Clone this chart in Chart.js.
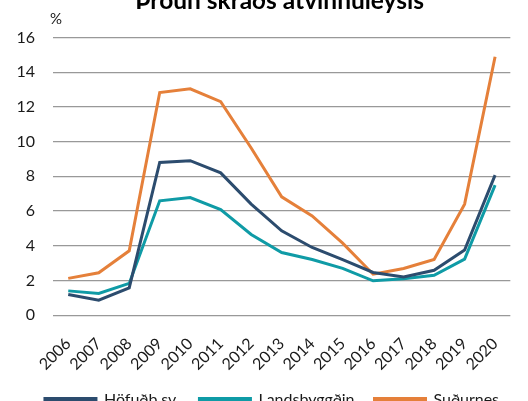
<!DOCTYPE html>
<html>
<head>
<meta charset="utf-8">
<script src="https://cdn.jsdelivr.net/npm/chart.js@4/dist/chart.umd.min.js"></script>
<style>
html,body{margin:0;padding:0;background:#fff;overflow:hidden;width:528px;height:401px;}
#wrap{position:absolute;left:0;top:0;width:528px;height:439px;}
</style>
</head>
<body>
<div id="wrap"><canvas id="c"></canvas></div>
<script>
const title = 'Þróun skráðs atvinnuleysis';
const years = ['2006','2007','2008','2009','2010','2011','2012','2013','2014','2015','2016','2017','2018','2019','2020'];
const hofudb = [1.19,0.86,1.57,8.8,8.9,8.2,6.4,4.86,3.9,3.2,2.46,2.2,2.59,3.75,8.07];
const landsb = [1.4,1.25,1.83,6.59,6.78,6.09,4.65,3.61,3.21,2.7,1.98,2.1,2.3,3.23,7.49];
const sudurnes = [2.12,2.44,3.71,12.83,13.04,12.3,9.63,6.82,5.72,4.15,2.36,2.69,3.21,6.4,14.89];
const yTicks = [0,2,4,6,8,10,12,14,16];
const FONT = 'Lato, "Open Sans", sans-serif';
const LEGEND_DX = 13, LEGEND_DY = -21;

const textPlugin = {
  id:'texts',
  afterLayout(chart){
    const l = chart.legend;
    if (l) { l.left += LEGEND_DX; l.right += LEGEND_DX; l.top += LEGEND_DY; l.bottom += LEGEND_DY; }
  },
  afterDraw(chart){
    const ctx = chart.ctx, a = chart.chartArea;
    ctx.save();
    ctx.fillStyle = '#000';
    ctx.font = 'bold 24.5px ' + FONT;
    ctx.textAlign = 'center';
    ctx.textBaseline = 'alphabetic';
    ctx.fillText(title, (a.left + a.right) / 2 - 2, 9);
    ctx.font = '15px ' + FONT;
    ctx.fillStyle = '#1a1a1a';
    ctx.textAlign = 'left';
    ctx.textBaseline = 'middle';
    ctx.fillText('%', a.left - 3, a.top - 18);
    ctx.restore();
  }
};

new Chart(document.getElementById('c'), {
  type:'line',
  data:{
    labels: years,
    datasets:[
      {label:'Höfuðb.sv.', data:hofudb, borderColor:'#2c4c6e', backgroundColor:'#2c4c6e', borderWidth:3, pointRadius:0, tension:0},
      {label:'Landsbyggðin', data:landsb, borderColor:'#0f9ba6', backgroundColor:'#0f9ba6', borderWidth:3, pointRadius:0, tension:0},
      {label:'Suðurnes', data:sudurnes, borderColor:'#e5803a', backgroundColor:'#e5803a', borderWidth:3, pointRadius:0, tension:0}
    ]
  },
  options:{
    responsive:true, maintainAspectRatio:false, animation:false,
    layout:{padding:{left:0,right:10,top:37.5,bottom:0}},
    plugins:{
      title:{display:false},
      legend:{position:'bottom', labels:{boxWidth:51, boxHeight:3, padding:20, color:'#1a1a1a', font:{family:FONT, size:16}}},
      tooltip:{enabled:false}
    },
    scales:{
      x:{
        offset:true,
        grid:{display:false, drawTicks:false},
        border:{display:false},
        ticks:{color:'#1a1a1a', font:{family:FONT, size:16}, minRotation:45, maxRotation:45, autoSkip:false, padding:19}
      },
      y:{
        min:0, max:16,
        afterFit(s){ s.width = 53; },
        afterBuildTicks(s){ s.ticks = yTicks.map(v=>({value:v})); },
        grid:{color:'#999', lineWidth:1.3, drawTicks:false},
        border:{display:false},
        ticks:{color:'#1a1a1a', font:{family:FONT, size:16}, padding:18}
      }
    }
  },
  plugins:[textPlugin]
});
</script>
</body>
</html>
